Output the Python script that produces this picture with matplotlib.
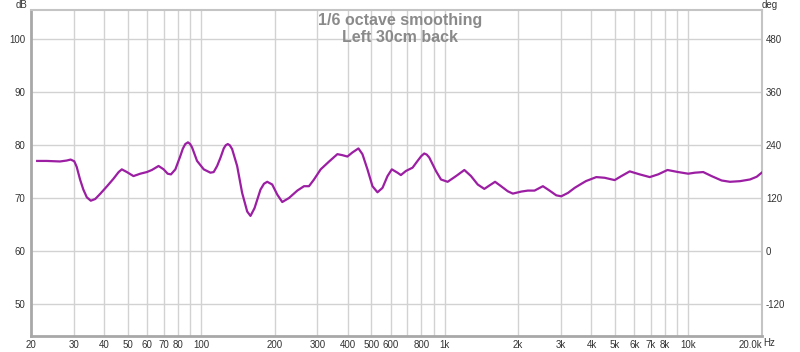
import matplotlib
matplotlib.use("Agg")
import matplotlib.pyplot as plt
from matplotlib.ticker import FixedLocator, NullLocator

plt.rcParams["axes.unicode_minus"] = False
plt.rcParams["font.family"] = ["Liberation Sans", "DejaVu Sans"]

freq_hz = [21.2, 23.2, 26.3, 28.0, 29.1, 30.1, 30.8, 31.8, 32.8, 33.9, 35.2, 36.7, 38.5,
           41.0, 43.6, 45.8, 47.2, 49.5, 52.7, 56.2, 59.8, 62.7, 66.8, 70.1, 72.8, 75.1,
           78.3, 82.1, 84.0, 86.0, 88.2, 90.0, 91.7, 96.1, 102.4, 109.1, 112.5, 116.2, 120.0, 123.7,
           126.0, 128.5, 131.0, 133.9, 140.4, 147.2, 154.4, 159.3, 165.5, 175.1, 181.0, 186.6, 195.6, 205.2,
           215.1, 229.2, 248.0, 264.2, 276.9, 290.4, 309.3, 334.7, 362.2, 379.8, 398.2,
           417.5, 441.9, 459.0, 481.3, 504.6, 529.1, 554.8, 581.7, 606.0, 639.3, 660.2,
           692.0, 737.4, 773.0, 800.0, 823.4, 843.0, 863.4, 919.6, 964.2, 1027, 1112, 1203, 1281, 1365,
           1453, 1524, 1608, 1702, 1814, 1902, 2058, 2192, 2336, 2528, 2692, 2867, 3006,
           3203, 3412, 3634, 3800, 4188, 4532, 4982, 5308, 5744, 6314, 6942, 7512, 8208,
           9080, 9984, 10636, 11508, 12452, 13690, 14814, 16288, 17908, 19072, 20000]
spl_db = [77.0, 77.0, 76.9, 77.07, 77.26, 76.94, 75.9, 73.5, 71.6, 70.13, 69.49, 69.81, 70.8,
          72.2, 73.63, 74.9, 75.41, 74.9, 74.14, 74.59, 74.9, 75.29, 76.05, 75.41, 74.59, 74.46,
          75.41, 77.96, 79.3, 80.19, 80.51, 80.2, 79.55, 77.01, 75.41, 74.78, 74.9, 76.05, 77.64, 79.36,
          79.95, 80.19, 79.95, 79.24, 76.05, 70.96, 67.45, 66.62, 68.09, 71.59, 72.7, 73.06, 72.55, 70.64,
          69.24, 70.0, 71.4, 72.23, 72.23, 73.5, 75.41, 76.88, 78.28, 78.09, 77.83,
          78.6, 79.36, 78.28, 75.41, 72.23, 71.08, 71.91, 74.14, 75.41, 74.78, 74.33,
          75.1, 75.73, 77.01, 77.9, 78.41, 78.2, 77.64, 75.1, 73.5, 73.06, 74.14, 75.29, 74.14, 72.55,
          71.72, 72.36, 73.06, 72.23, 71.27, 70.83, 71.21, 71.4, 71.4, 72.23, 71.4, 70.51, 70.32,
          70.96, 71.91, 72.68, 73.2, 73.95, 73.82, 73.38, 74.14, 75.03, 74.46, 73.95, 74.46, 75.29,
          74.9, 74.59, 74.78, 74.9, 74.14, 73.31, 73.06, 73.18, 73.5, 74.01, 74.78]

x_grid = [30, 40, 50, 60, 70, 80, 90, 100, 200, 300, 400, 500, 600, 700, 800, 900,
          1000, 2000, 3000, 4000, 5000, 6000, 7000, 8000, 9000, 10000]
x_tick_vals = [20, 30, 40, 50, 60, 70, 80, 100, 200, 300, 400, 500, 600, 800, 1000,
               2000, 3000, 4000, 5000, 6000, 7000, 8000, 10000, 20000]
x_tick_labels = ["20", "30", "40", "50", "60", "70", "80", "100", "200", "300", "400", "500",
                 "600", "800", "1k", "2k", "3k", "4k", "5k", "6k", "7k", "8k", "10k", "20.0k"]
db_ticks = [50, 60, 70, 80, 90, 100]
deg_ticks = [-120, 0, 120, 240, 360, 480]
title_lines = ["1/6 octave smoothing", "Left 30cm back"]

W, H = 800, 352
fig = plt.figure(figsize=(W / 100, H / 100), dpi=100)
fig.patch.set_facecolor("white")
L, R, T, B = 31, 761.7, 10, 335.7
ax = fig.add_axes([L / W, 1 - B / H, (R - L) / W, (B - T) / H])
ax.set_xscale("log")
ax.set_xlim(20, 20000)
ax.set_ylim(44.0, 105.5)

grid_c = "#d2d2d2"
for g in x_grid:
    ax.axvline(g, color=grid_c, lw=1.0, zorder=1)
for g in db_ticks:
    ax.axhline(g, color=grid_c, lw=1.0, zorder=1)

ax.plot(freq_hz, spl_db, color="#9b1ea3", lw=1.6, zorder=3,
        solid_joinstyle="round", antialiased=True)

ax.xaxis.set_major_locator(FixedLocator(x_tick_vals))
ax.xaxis.set_minor_locator(NullLocator())
ax.set_xticklabels(x_tick_labels)
ax.get_xticklabels()[-1].set_horizontalalignment("right")
ax.set_yticks(db_ticks)
ax.tick_params(axis="both", length=0, labelsize=7, colors="#333333", pad=4)
ax.tick_params(axis="x", pad=3)

for side in ["left", "bottom"]:
    ax.spines[side].set_color("#a8a8a8")
    ax.spines[side].set_linewidth(2.0)
for side in ["top", "right"]:
    ax.spines[side].set_color("#c4c4c4")
    ax.spines[side].set_linewidth(1.5)

ax2 = ax.twinx()
ax2.set_ylim((44.0 - 60) * 12, (105.5 - 60) * 12)
ax2.set_yticks(deg_ticks)
ax2.tick_params(axis="y", length=0, labelsize=7, colors="#333333", pad=3)
for s in ax2.spines.values():
    s.set_visible(False)

fig.text(21 / W, 1 - 5 / H, "dB", fontsize=7, color="#333333", ha="center", va="center")
fig.text(770 / W, 1 - 5 / H, "deg", fontsize=7, color="#333333", ha="center", va="center")
fig.text(763 / W, 1 - 343 / H, "Hz", fontsize=7, color="#333333", ha="left", va="center")

fig.text(400 / W, 1 - 20 / H, title_lines[0], fontsize=11.5, color="#8a8a8a",
         fontweight="bold", ha="center", va="center")
fig.text(400 / W, 1 - 37.5 / H, title_lines[1], fontsize=11.5, color="#8a8a8a",
         fontweight="bold", ha="center", va="center")

fig.savefig("out.png", dpi=100, facecolor="white")
